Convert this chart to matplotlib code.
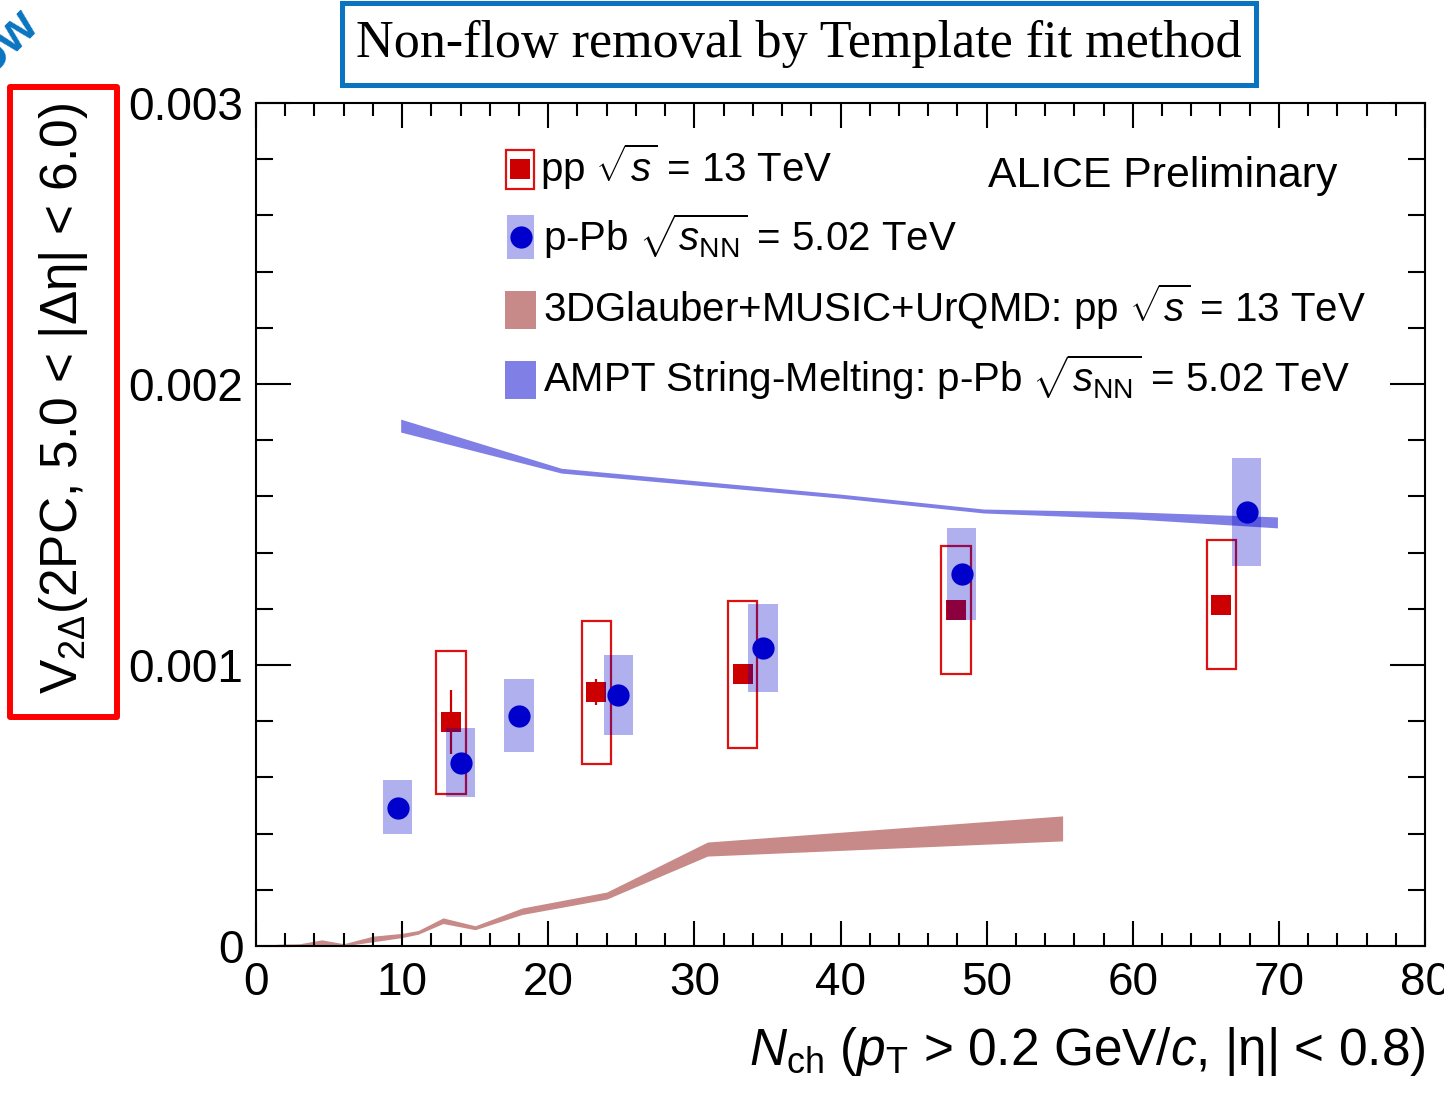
import numpy as np
import matplotlib
matplotlib.use("Agg")
import matplotlib.pyplot as plt
from matplotlib.patches import Rectangle
from matplotlib.lines import Line2D
from matplotlib.ticker import MultipleLocator, FixedLocator, FixedFormatter

# pp sqrt(s) = 13 TeV
pp_nch = [13.35, 23.3, 33.3, 47.9, 66.05]
pp_v2 = [0.000797, 0.000904, 0.000968, 0.001196, 0.001214]
pp_stat = [0.000115, 0.000046, 0.00002, 0.00002, 0.00002]
pp_sys_lo = [0.00054, 0.000648, 0.000705, 0.000968, 0.000986]
pp_sys_hi = [0.00105, 0.001157, 0.001228, 0.001423, 0.001445]

# p-Pb sqrt(sNN) = 5.02 TeV
ppb_nch = [9.7, 14.0, 18.0, 24.8, 34.7, 48.3, 67.8]
ppb_v2 = [0.000491, 0.000651, 0.000819, 0.000893, 0.00106, 0.001324, 0.001544]
ppb_stat = [0.000025, 0.00002, 0.00002, 0.00002, 0.00002, 0.00002, 0.00002]
ppb_sys_lo = [0.0004, 0.00053, 0.00069, 0.000751, 0.000904, 0.00116, 0.001352]
ppb_sys_hi = [0.00059, 0.000776, 0.00095, 0.001036, 0.001217, 0.001488, 0.001737]

# 3DGlauber+MUSIC+UrQMD (pp)
glauber_nch = [1.4, 3.0, 4.5, 6.0, 8.0, 10.0, 11.1, 12.8, 15.0, 18.2, 24.0, 30.9, 55.2]
glauber_lo = [0.0, 0.0, 0.000005, 0.0, 0.000015, 0.00003, 0.000042, 0.00008, 0.000058,
              0.000112, 0.000167, 0.00032, 0.000374]
glauber_hi = [0.000006, 0.000008, 0.000022, 0.000008, 0.000035, 0.000045, 0.000055, 0.0001,
              0.000072, 0.000135, 0.000192, 0.00037, 0.000463]

# AMPT String-Melting (p-Pb)
ampt_nch = [9.9, 20.9, 40.0, 49.8, 60.0, 69.9]
ampt_lo = [0.001829, 0.001683, 0.001594, 0.001541, 0.00152, 0.001488]
ampt_hi = [0.001875, 0.0017, 0.001608, 0.001555, 0.001545, 0.001527]

xticks = [0, 10, 20, 30, 40, 50, 60, 70, 80]
yticks = [0, 0.001, 0.002, 0.003]
ytick_labels = ["0", "0.001", "0.002", "0.003"]

red = "#cc0000"
red_box = "#dd1111"
blue = "#0000cc"
glauber_col = "#c78a88"
ampt_col = "#7f7fe6"
title_blue = "#0a74c0"

plt.rcParams["font.family"] = ["Liberation Sans", "DejaVu Sans"]
plt.rcParams["mathtext.fontset"] = "custom"
plt.rcParams["mathtext.rm"] = "Liberation Sans"
plt.rcParams["mathtext.it"] = "Liberation Sans:italic"
plt.rcParams["mathtext.bf"] = "Liberation Sans:bold"

W, H = 1444, 1094
fig = plt.figure(figsize=(W / 100, H / 100), dpi=100)
ax = fig.add_axes([256 / W, 1 - 946 / H, 1169 / W, 843 / H])

# model bands
ax.fill_between(ampt_nch, ampt_lo, ampt_hi, color=ampt_col, lw=0, zorder=1)
ax.fill_between(glauber_nch, glauber_lo, glauber_hi, color=glauber_col, lw=0, zorder=1)

# pp: open systematic boxes + markers
pp_lo = np.array(pp_sys_lo)
pp_hi = np.array(pp_sys_hi)
ax.bar(pp_nch, pp_hi - pp_lo, bottom=pp_lo, width=2.0, fill=False,
       edgecolor=red_box, linewidth=1.6, zorder=2)
ax.errorbar(pp_nch, pp_v2, yerr=pp_stat, fmt="s", color=red, ms=15, mew=0,
            elinewidth=1.6, capsize=0, zorder=3)

# p-Pb: filled translucent systematic boxes + markers
ppb_lo = np.array(ppb_sys_lo)
ppb_hi = np.array(ppb_sys_hi)
ax.bar(ppb_nch, ppb_hi - ppb_lo, bottom=ppb_lo, width=2.0, color=blue, alpha=0.31,
       linewidth=0, zorder=4)
ax.errorbar(ppb_nch, ppb_v2, yerr=ppb_stat, fmt="o", color=blue, ms=16, mew=0,
            elinewidth=1.6, capsize=0, zorder=5)

ax.set_xlim(0, 80)
ax.set_ylim(0, 0.003)
ax.xaxis.set_major_locator(FixedLocator(xticks))
ax.xaxis.set_minor_locator(MultipleLocator(2))
ax.yaxis.set_major_locator(FixedLocator(yticks))
ax.yaxis.set_major_formatter(FixedFormatter(ytick_labels))
ax.yaxis.set_minor_locator(MultipleLocator(0.0002))
ax.tick_params(which="both", direction="in", top=True, right=True, width=1.5,
               labelsize=33, colors="black")
ax.tick_params(axis="x", which="major", length=18, pad=11)
ax.tick_params(axis="x", which="minor", length=9.5)
ax.tick_params(axis="y", which="major", length=25, pad=9)
ax.tick_params(axis="y", which="minor", length=12)
for s in ax.spines.values():
    s.set_linewidth(1.5)

ax.set_xlabel(r"$N_{\rm ch}$ ($p_{\rm T}$ > 0.2 GeV/$c$, |η| < 0.8)", fontsize=37,
              ha="right", va="top")
ax.xaxis.set_label_coords(1.0, -0.094)
ax.set_ylabel(r"V$_{2\Delta}$(2PC, 5.0 < |Δη| < 6.0)", fontsize=37, va="center")
ax.yaxis.set_label_coords(-0.165, 0.65)


# legend drawn by hand in axes fraction
def fx(px):
    return (px - 256) / 1169


def fy(py):
    return (946 - py) / 843


def box(x0, y0, x1, y1, **kw):
    r = Rectangle((fx(x0), fy(y1)), fx(x1) - fx(x0), fy(y0) - fy(y1),
                  transform=ax.transAxes, clip_on=False, **kw)
    ax.add_patch(r)


box(506, 150, 534, 189, fill=False, edgecolor=red_box, lw=1.6, zorder=6)
ax.add_line(Line2D([fx(520)], [fy(169)], marker="s", ms=15, mew=0, color=red,
                   transform=ax.transAxes, zorder=7))
box(507, 215, 534, 259, facecolor=blue, alpha=0.31, lw=0, zorder=6)
ax.add_line(Line2D([fx(520.5)], [fy(237)], marker="o", ms=16, mew=0, color=blue,
                   transform=ax.transAxes, zorder=7))
box(505, 291, 536, 329, facecolor=glauber_col, lw=0, zorder=6)
box(505, 361, 536, 399, facecolor=ampt_col, lw=0, zorder=6)

leg_fs = 29
ax.text(fx(540), fy(182), r"pp $\sqrt{s}$ = 13 TeV", transform=ax.transAxes,
        fontsize=leg_fs, va="baseline")
ax.text(fx(543), fy(251), r"p-Pb $\sqrt{s_{\rm NN}}$ = 5.02 TeV", transform=ax.transAxes,
        fontsize=leg_fs, va="baseline")
ax.text(fx(543), fy(322), r"3DGlauber+MUSIC+UrQMD: pp $\sqrt{s}$ = 13 TeV",
        transform=ax.transAxes, fontsize=leg_fs, va="baseline")
ax.text(fx(543), fy(392), r"AMPT String-Melting: p-Pb $\sqrt{s_{\rm NN}}$ = 5.02 TeV",
        transform=ax.transAxes, fontsize=leg_fs, va="baseline")
ax.text(fx(988), fy(187), "ALICE Preliminary", transform=ax.transAxes,
        fontsize=30.8, va="baseline")

# annotations from the slide
fig.text(799 / W, 1 - 44 / H, "Non-flow removal by Template fit method",
         family="Liberation Serif", fontsize=37.5, ha="center", va="center")
fig.add_artist(Rectangle((342 / W, 1 - 85 / H), 914 / W, 82 / H, fill=False,
                         edgecolor=title_blue, lw=3.6, transform=fig.transFigure))
fig.add_artist(Rectangle((10 / W, 1 - 717 / H), 107 / W, 630 / H, fill=False,
                         edgecolor="#ff0000", lw=4.3, joinstyle="round",
                         transform=fig.transFigure))
fig.text(40 / W, 1 - 26 / H, "Non-flow", color=title_blue, fontsize=36,
         fontweight="bold", rotation=45, rotation_mode="anchor", ha="right",
         va="baseline")

fig.savefig("out.png", dpi=100)
